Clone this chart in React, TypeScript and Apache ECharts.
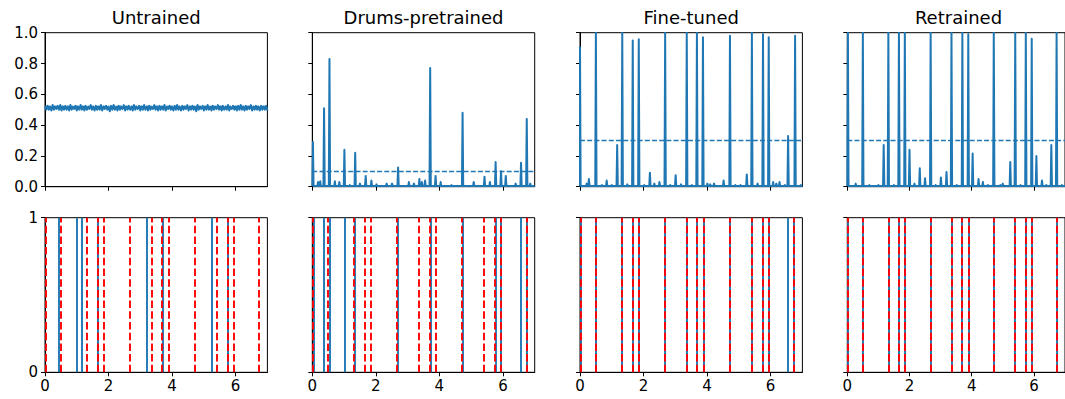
import React, { useEffect, useRef } from "react";
import * as echarts from "echarts";

const titles = ["Untrained", "Drums-pretrained", "Fine-tuned", "Retrained"];

// ground-truth onset times (s)
const groundTruth = [0.02, 0.5, 1.32, 1.66, 1.85, 2.67, 3.35, 3.69, 3.89, 4.7, 5.4, 5.74, 5.93, 6.74];

// detected onset times (s)
const detUntrained = [0.42, 1.01, 1.17, 1.66, 3.2, 3.71, 5.25, 5.76];
const detDrums = [0.03, 0.37, 0.54, 1.01, 1.35, 2.7, 3.72, 4.74, 5.77, 5.94, 6.57, 6.76];
const detFine = [0.02, 0.5, 1.32, 1.66, 1.85, 2.67, 3.35, 3.69, 3.89, 4.7, 5.4, 5.74, 5.93, 6.55, 6.74];
const detRetrained = [0.02, 0.5, 1.32, 1.66, 1.85, 2.67, 3.35, 3.69, 3.89, 4.7, 5.4, 5.74, 5.93, 6.74];

// thresholds
const thresholds = [0.515, 0.1, 0.3, 0.3];

// untrained activation, sampled every 0.04 s
const untrainedStep = 0.04;
const untrainedValues = [
  0.52, 0.5, 0.525, 0.5, 0.52, 0.495, 0.53, 0.5, 0.52, 0.505,
  0.525, 0.5, 0.53, 0.495, 0.52, 0.5, 0.525, 0.5, 0.52, 0.495,
  0.53, 0.5, 0.52, 0.505, 0.525, 0.495, 0.52, 0.5, 0.53, 0.5,
  0.52, 0.495, 0.525, 0.5, 0.52, 0.505, 0.53, 0.5, 0.52, 0.495,
  0.525, 0.5, 0.52, 0.5, 0.53, 0.495, 0.52, 0.505, 0.525, 0.5,
  0.52, 0.49, 0.525, 0.5, 0.53, 0.5, 0.52, 0.495, 0.525, 0.5,
  0.52, 0.505, 0.53, 0.495, 0.52, 0.5, 0.525, 0.5, 0.52, 0.495,
  0.53, 0.5, 0.52, 0.505, 0.525, 0.495, 0.52, 0.5, 0.53, 0.5,
  0.52, 0.495, 0.525, 0.5, 0.52, 0.505, 0.53, 0.5, 0.52, 0.495,
  0.525, 0.5, 0.52, 0.5, 0.53, 0.495, 0.52, 0.505, 0.525, 0.5,
  0.52, 0.495, 0.525, 0.5, 0.53, 0.5, 0.52, 0.495, 0.525, 0.5,
  0.52, 0.505, 0.53, 0.495, 0.52, 0.5, 0.525, 0.5, 0.52, 0.49,
  0.53, 0.5, 0.52, 0.505, 0.525, 0.495, 0.52, 0.5, 0.53, 0.5,
  0.52, 0.495, 0.525, 0.5, 0.52, 0.505, 0.53, 0.5, 0.52, 0.495,
  0.525, 0.5, 0.52, 0.5, 0.53, 0.495, 0.52, 0.505, 0.525, 0.5,
  0.52, 0.495, 0.525, 0.5, 0.53, 0.5, 0.52, 0.495, 0.525, 0.5,
  0.52, 0.505, 0.53, 0.495, 0.52, 0.5, 0.525, 0.5, 0.52, 0.495,
  0.525, 0.5, 0.52, 0.5, 0.525, 0.495,
];

// activation peaks [time, value]
const drumsPeaks = [
  [0.02, 0.29], [0.18, 0.03], [0.25, 0.035], [0.37, 0.51], [0.54, 0.83], [0.71, 0.035],
  [0.85, 0.03], [1.01, 0.24], [1.18, 0.01], [1.35, 0.22], [1.5, 0.02], [1.68, 0.07],
  [1.86, 0.04], [2.02, 0.015], [2.34, 0.02], [2.51, 0.02], [2.7, 0.125], [3.04, 0.03],
  [3.2, 0.02], [3.37, 0.05], [3.45, 0.03], [3.55, 0.04], [3.71, 0.77], [3.88, 0.07],
  [4.04, 0.03], [4.38, 0.01], [4.73, 0.48], [5.08, 0.03], [5.42, 0.065], [5.59, 0.03],
  [5.77, 0.16], [5.94, 0.1], [6.09, 0.07], [6.4, 0.02], [6.57, 0.155], [6.75, 0.44], [6.86, 0.02],
];
const finePeaks = [
  [0.0, 0.905], [0.21, 0.02], [0.28, 0.05], [0.5, 1.0], [0.69, 0.01], [0.84, 0.04],
  [1.0, 0.01], [1.17, 0.27], [1.33, 1.0], [1.49, 0.015], [1.66, 0.95], [1.85, 0.957],
  [2.02, 0.01], [2.2, 0.09], [2.34, 0.02], [2.5, 0.03], [2.68, 1.0], [2.84, 0.01],
  [3.01, 0.075], [3.18, 0.015], [3.36, 1.0], [3.52, 0.01], [3.68, 1.0], [3.87, 0.97],
  [4.01, 0.02], [4.1, 0.015], [4.22, 0.02], [4.52, 0.04], [4.72, 0.98], [4.89, 0.01],
  [5.05, 0.01], [5.25, 0.08], [5.41, 1.0], [5.59, 0.02], [5.76, 0.99], [5.94, 0.97],
  [6.08, 0.03], [6.18, 0.02], [6.28, 0.03], [6.45, 0.01], [6.55, 0.33], [6.77, 0.98], [6.95, 0.01],
];
const retrainedPeaks = [
  [0.02, 1.0], [0.27, 0.02], [0.5, 1.0], [0.71, 0.01], [1.0, 0.01], [1.17, 0.27],
  [1.32, 1.0], [1.5, 0.01], [1.66, 1.0], [1.85, 1.0], [2.0, 0.24], [2.16, 0.02],
  [2.33, 0.12], [2.5, 0.055], [2.68, 1.0], [2.84, 0.01], [3.01, 0.06], [3.19, 0.095],
  [3.35, 1.0], [3.52, 0.01], [3.7, 1.0], [3.89, 0.99], [4.03, 0.215], [4.22, 0.05],
  [4.36, 0.03], [4.52, 0.01], [4.71, 1.0], [4.92, 0.01], [5.0, 0.02], [5.24, 0.16],
  [5.4, 1.0], [5.57, 0.01], [5.74, 1.0], [5.93, 0.96], [6.08, 0.2], [6.26, 0.04],
  [6.4, 0.01], [6.56, 0.27], [6.73, 1.0], [6.9, 0.01],
];

const baseline = 0.004;
const spikeHalfWidth = 0.02;

function spikes(peaks: number[][]) {
  const out: number[][] = [[0, baseline]];
  peaks.forEach(([t, v]) => {
    out.push([t - spikeHalfWidth, baseline], [t, v], [t + spikeHalfWidth, baseline]);
  });
  out.push([7, baseline]);
  return out;
}

const BLUE = "#1f77b4";
const RED = "#ff0000";
const FONT = "DejaVu Sans";

export default function App() {
  const ref = useRef<HTMLDivElement>(null);
  useEffect(() => {
    const chart = echarts.init(ref.current!, null, { renderer: "svg" });
    const lefts = [45, 312.3, 580, 847.3];
    const width = 222.4;
    const grids: any[] = [];
    const xAxes: any[] = [];
    const yAxes: any[] = [];
    const series: any[] = [];
    const graphics: any[] = [];

    const actData = [
      untrainedValues.map((v, i) => [i * untrainedStep, v]),
      spikes(drumsPeaks),
      spikes(finePeaks),
      spikes(retrainedPeaks),
    ];
    const detections = [detUntrained, detDrums, detFine, detRetrained];

    for (let row = 0; row < 2; row++) {
      for (let c = 0; c < 4; c++) {
        const gi = row * 4 + c;
        grids.push({
          left: lefts[c],
          width,
          top: row === 0 ? 32.7 : 217.7,
          height: row === 0 ? 154 : 154.6,
          show: true,
          borderColor: "#000",
          borderWidth: 1,
          backgroundColor: "transparent",
        });
        xAxes.push({
          gridIndex: gi,
          type: "value",
          min: 0,
          max: 7,
          axisLine: { show: true, lineStyle: { color: "#000", width: 1 } },
          axisTick: { show: true, length: 4, customValues: [0, 2, 4, 6], lineStyle: { color: "#000", width: 1 } },
          axisLabel: {
            show: row === 1,
            customValues: [0, 2, 4, 6],
            margin: 6,
            fontSize: 15,
            color: "#000",
            fontFamily: FONT,
          },
          splitLine: { show: false },
        });
        yAxes.push({
          gridIndex: gi,
          type: "value",
          min: 0,
          max: 1,
          interval: row === 0 ? 0.2 : 1,
          axisLine: { show: true, lineStyle: { color: "#000", width: 1 } },
          axisTick: { show: true, length: 4, lineStyle: { color: "#000", width: 1 } },
          axisLabel: {
            show: c === 0,
            margin: 7,
            fontSize: 15,
            color: "#000",
            fontFamily: FONT,
            formatter: (v: number) => (row === 0 ? v.toFixed(1) : String(Math.round(v))),
          },
          splitLine: { show: false },
        });
        if (row === 0) {
          series.push({
            type: "line",
            xAxisIndex: gi,
            yAxisIndex: gi,
            data: actData[c],
            showSymbol: false,
            symbol: "none",
            clip: true,
            lineStyle: { color: BLUE, width: 2, join: "round" },
            markLine: {
              silent: true,
              symbol: ["none", "none"],
              label: { show: false },
              emphasis: { disabled: true },
              lineStyle: { color: BLUE, width: 1.3, type: [5, 2.2] },
              data: [{ yAxis: thresholds[c] }],
            },
          });
        } else {
          series.push({
            type: "line",
            xAxisIndex: gi,
            yAxisIndex: gi,
            data: [],
            markLine: {
              silent: true,
              symbol: ["none", "none"],
              label: { show: false },
              emphasis: { disabled: true },
              lineStyle: { color: BLUE, width: 1.9, type: "solid" },
              data: detections[c].map((t) => ({ xAxis: t })),
            },
          });
          series.push({
            type: "line",
            xAxisIndex: gi,
            yAxisIndex: gi,
            data: [],
            z: 3,
            markLine: {
              silent: true,
              symbol: ["none", "none"],
              label: { show: false },
              emphasis: { disabled: true },
              lineStyle: { color: RED, width: 1.9, type: [7.5, 3.2] },
              data: groundTruth.map((t) => ({ xAxis: t })),
            },
          });
        }
      }
    }

    titles.forEach((t, c) => {
      graphics.push({
        type: "text",
        x: lefts[c] + width / 2,
        y: 17,
        style: {
          text: t,
          fontSize: 18,
          fontFamily: FONT,
          fill: "#000",
          textAlign: "center",
          textVerticalAlign: "middle",
        },
      });
    });

    chart.setOption({
      animation: false,
      backgroundColor: "#fff",
      grid: grids,
      xAxis: xAxes,
      yAxis: yAxes,
      series,
      graphic: graphics,
    });
    return () => chart.dispose();
  }, []);
  return (
    <div
      ref={ref}
      style={{ position: "fixed", left: 0, top: 0, width: 1065, height: 399, background: "#fff" }}
    />
  );
}
